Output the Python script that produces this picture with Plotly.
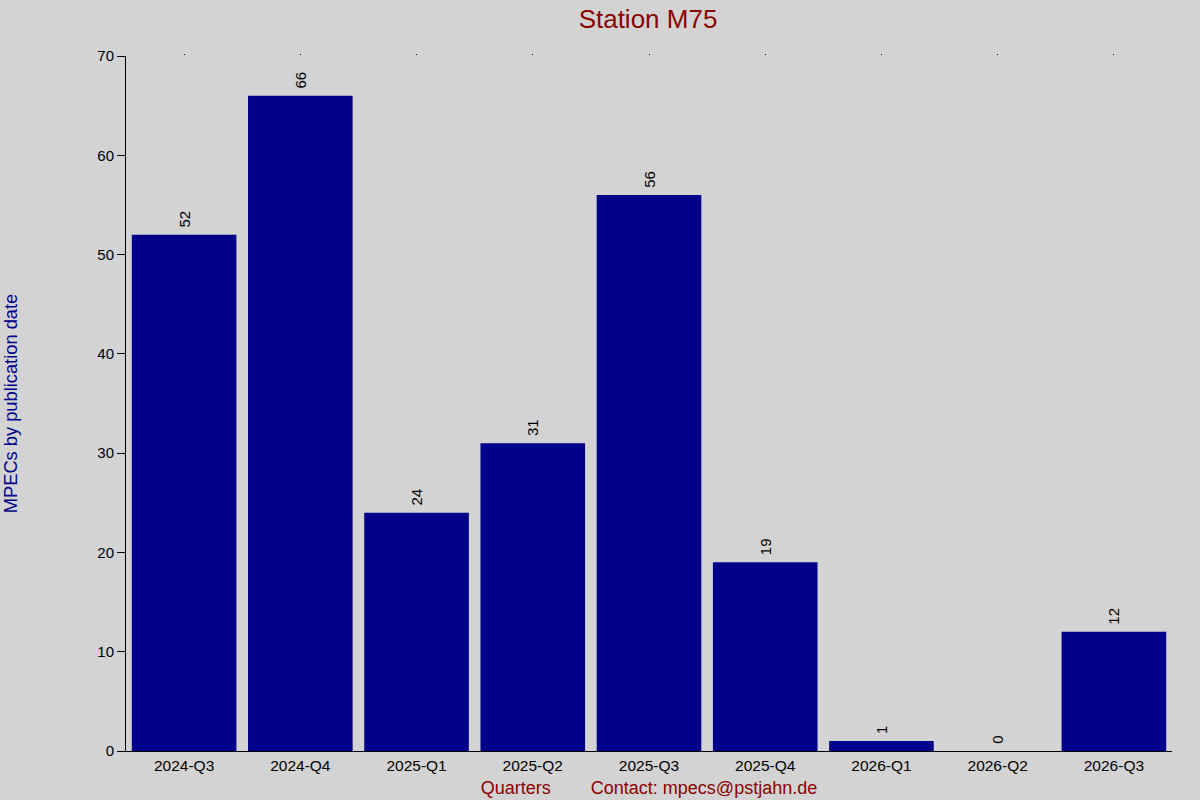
import plotly.graph_objects as go

quarters = ["2024-Q3", "2024-Q4", "2025-Q1", "2025-Q2", "2025-Q3",
            "2025-Q4", "2026-Q1", "2026-Q2", "2026-Q3"]
mpecs = [52, 66, 24, 31, 56, 19, 1, 0, 12]

font_family = "Liberation Sans, Arial, sans-serif"
spacer = "\u00a0" * 8

fig = go.Figure()
fig.add_trace(go.Bar(
    x=quarters,
    y=mpecs,
    marker=dict(color="#00008B", line=dict(width=0)),
    text=["\u00a0" + str(v) for v in mpecs],
    textposition="outside",
    textangle=-90,
    constraintext="none",
    textfont=dict(color="black", size=15, family=font_family),
    cliponaxis=False,
    showlegend=False,
))
# invisible trace so the top axis draws its small tick dots
fig.add_trace(go.Scatter(
    x=quarters, y=mpecs, xaxis="x2", mode="markers",
    marker=dict(opacity=0), showlegend=False, hoverinfo="skip",
))

fig.update_layout(
    width=1200,
    height=800,
    paper_bgcolor="#D3D3D3",
    plot_bgcolor="#D3D3D3",
    font=dict(family=font_family, color="black"),
    margin=dict(l=126, r=28, t=56, b=49),
    bargap=0.1,
    title=dict(text="Station M75", x=0.54, xanchor="center", y=0.977, yanchor="middle",
               font=dict(size=26, color="#8B0000")),
    xaxis=dict(
        type="category",
        showline=True, linecolor="black", linewidth=1,
        ticks="", showgrid=False, zeroline=False,
        tickfont=dict(size=15.5, color="black"),
        title=dict(text="Quarters" + spacer + "Contact: mpecs@pstjahn.de",
                   font=dict(size=18, color="#8B0000"), standoff=8),
        automargin=False,
    ),
    xaxis2=dict(
        type="category", overlaying="x", side="top", matches="x",
        showline=False, showgrid=False, showticklabels=False,
        ticks="outside", ticklen=1, tickcolor="black", tickwidth=1,
    ),
    yaxis=dict(
        range=[0, 70], dtick=10,
        showline=True, linecolor="black", linewidth=1,
        ticks="outside", ticklen=8, tickcolor="black",
        showgrid=False, zeroline=False,
        tickfont=dict(size=15, color="black"),
        title=dict(text="MPECs by publication date",
                   font=dict(size=18.3, color="#00008B"), standoff=76),
        automargin=False,
    ),
)

fig.write_html("out.html", config={"displayModeBar": False},
               post_script="document.body.style.margin='0';")
